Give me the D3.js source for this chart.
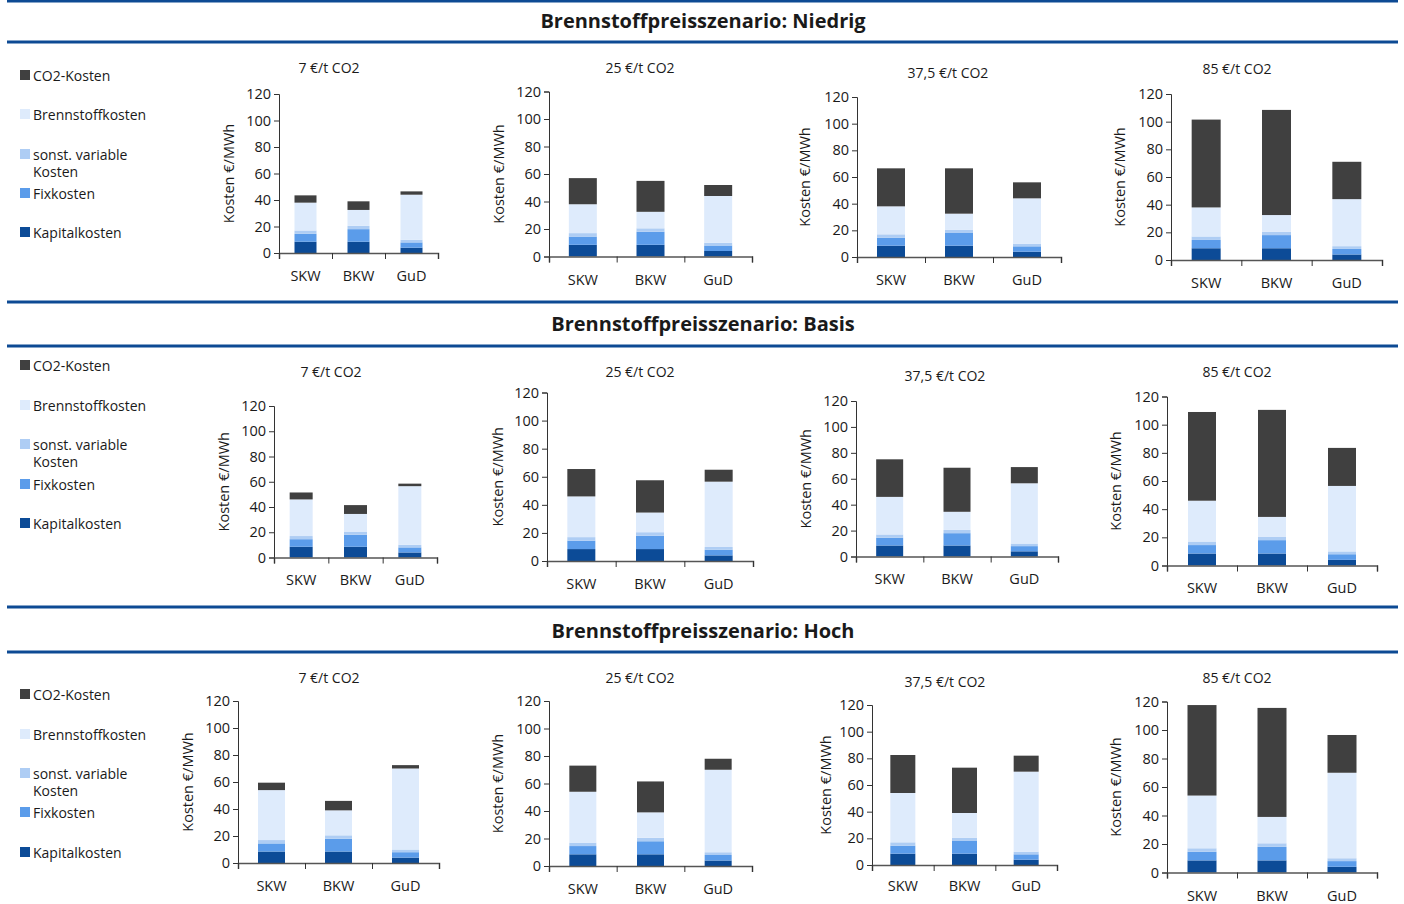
<!DOCTYPE html>
<html><head><meta charset="utf-8">
<script src="https://cdn.jsdelivr.net/npm/d3@7"></script>
<style>body{margin:0;background:#fff;} svg{display:block;font-family:"Open Sans","Noto Sans",sans-serif;}</style>
</head><body>
<svg id="c" width="1404" height="904"></svg>
<script>
// ---- data ----
const scenarios = ["Niedrig", "Basis", "Hoch"];
const co2Prices = ["7 €/t CO2", "25 €/t CO2", "37,5 €/t CO2", "85 €/t CO2"];
const plants = ["SKW", "BKW", "GuD"];
const seriesNames = ["Kapitalkosten", "Fixkosten", "sonst. variable Kosten", "Brennstoffkosten", "CO2-Kosten"];
const legendOrder = ["CO2-Kosten", "Brennstoffkosten", "sonst. variable Kosten", "Fixkosten", "Kapitalkosten"];
const yTicks = [0, 20, 40, 60, 80, 100, 120];
const kapitalkosten = [8.5, 8.5, 4];
const fixkosten = [6, 9.5, 4];
const sonstVariable = [2.5, 2.5, 2];
// fuel costs by scenario (Niedrig, Basis, Hoch) x plant
const brennstoffNiedrig = [21, 12, 34];
const brennstoffBasis = [29, 14, 46.5];
const brennstoffHoch = [37, 18.5, 60];
// CO2 costs by scenario x CO2 price x plant
const co2Niedrig = [[5.5, 6.5, 2.5], [19, 22.5, 8], [28.5, 34, 12], [63.5, 76, 27]];
const co2Basis = [[5.5, 7, 2], [19.5, 23, 8.5], [29, 34, 12.5], [63, 76, 27]];
const co2Hoch = [[5.5, 7, 2.5], [19, 22.5, 8], [28.5, 34, 12], [63.5, 76.5, 26.5]];

// ---- layout / style ----
const colors = {"Kapitalkosten":"#0c4b97","Fixkosten":"#5b9cea","sonst. variable Kosten":"#aecdf4","Brennstoffkosten":"#deebfc","CO2-Kosten":"#404040"};
const layouts = [
 [{x0:279,x1:438,y0:253,y1:94,bw:22,tx:329,ty:67,lx:228,cy:275},
  {x0:549,x1:752,y0:256.5,y1:91.5,bw:28,tx:640,ty:67,lx:498,cy:279},
  {x0:857,x1:1061,y0:257,y1:97,bw:28,tx:948,ty:72,lx:804,cy:279},
  {x0:1171,x1:1382,y0:260,y1:94,bw:29,tx:1237,ty:68,lx:1119,cy:282}],
 [{x0:274,x1:437,y0:557.5,y1:406,bw:23,tx:331,ty:371,lx:223,cy:579},
  {x0:547,x1:753,y0:561,y1:392.5,bw:28,tx:640,ty:371,lx:497,cy:583},
  {x0:856,x1:1058,y0:556.5,y1:401,bw:27,tx:945,ty:375,lx:805,cy:578},
  {x0:1167,x1:1377,y0:565.5,y1:396.5,bw:28,tx:1237,ty:371,lx:1115,cy:587}],
 [{x0:238,x1:439,y0:863,y1:701,bw:27,tx:329,ty:677,lx:187,cy:885},
  {x0:549,x1:752,y0:866,y1:701,bw:27,tx:640,ty:677,lx:497,cy:888},
  {x0:872,x1:1057,y0:865,y1:705,bw:25,tx:945,ty:681,lx:825,cy:885},
  {x0:1167,x1:1377,y0:872.5,y1:701.5,bw:29,tx:1237,ty:677,lx:1115,cy:895}]
];
const headers = [{y:20, l1:1, l2:42, leg:[75,114,154,193,232]},
                 {y:323, l1:302, l2:346, leg:[365,405,444,484,523]},
                 {y:630, l1:607, l2:652, leg:[694,734,773,812,852]}];

const svg = d3.select("#c");
const fuelBy = [brennstoffNiedrig, brennstoffBasis, brennstoffHoch];
const co2By = [co2Niedrig, co2Basis, co2Hoch];

scenarios.forEach((sc, si) => {
  const h = headers[si];
  [h.l1, h.l2].forEach(ly => svg.append("line").attr("x1",7).attr("x2",1398).attr("y1",ly).attr("y2",ly)
      .attr("stroke","#0d4a94").attr("stroke-width",3));
  svg.append("text").attr("x",703).attr("y",h.y).attr("text-anchor","middle").attr("dominant-baseline","central")
     .attr("font-size",20).attr("font-weight","bold").attr("fill","#1a1a1a").text("Brennstoffpreisszenario: " + sc);
  // legend
  legendOrder.forEach((name, li) => {
    const ly = h.leg[li];
    svg.append("rect").attr("x",20).attr("y",ly-5).attr("width",10).attr("height",10).attr("fill",colors[name]);
    const t = svg.append("text").attr("x",33).attr("y",ly).attr("dominant-baseline","central")
      .attr("font-size",14).attr("fill","#1a1a1a");
    if (name === "sonst. variable Kosten") {
      t.append("tspan").attr("x",33).text("sonst. variable");
      t.append("tspan").attr("x",33).attr("dy",17).text("Kosten");
    } else t.text(name);
  });
  co2Prices.forEach((cp, ci) => {
    const L = layouts[si][ci];
    const g = svg.append("g");
    const y = d3.scaleLinear().domain([0,120]).range([L.y0, L.y1]);
    const step = (L.x1 - L.x0) / plants.length;
    const pad = 1 - L.bw / step;
    const x = d3.scaleBand().domain(plants).range([L.x0, L.x1]).paddingInner(pad).paddingOuter(pad/2);
    const rows = plants.map((p, pi) => ({plant:p, "Kapitalkosten":kapitalkosten[pi], "Fixkosten":fixkosten[pi],
      "sonst. variable Kosten":sonstVariable[pi], "Brennstoffkosten":fuelBy[si][pi], "CO2-Kosten":co2By[si][ci][pi]}));
    const stacked = d3.stack().keys(seriesNames)(rows);
    stacked.forEach(s => {
      g.selectAll(null).data(s).enter().append("rect")
        .attr("x", d => x(d.data.plant)).attr("width", x.bandwidth())
        .attr("y", d => y(d[1])).attr("height", d => y(d[0]) - y(d[1]))
        .attr("fill", colors[s.key]);
    });
    // y axis
    const ya = g.append("g").attr("transform",`translate(${L.x0},0)`)
      .call(d3.axisLeft(y).tickValues(yTicks).tickSize(5).tickPadding(3));
    ya.selectAll("text").attr("font-size",14.5).attr("fill","#1a1a1a").attr("font-family","Open Sans, sans-serif");
    ya.select(".domain").attr("stroke","#333");
    ya.selectAll(".tick line").attr("stroke","#333");
    // x axis
    const xl = d3.scaleLinear().domain([0, plants.length]).range([L.x0, L.x1]);
    const xa = g.append("g").attr("transform",`translate(0,${L.y0})`)
      .call(d3.axisBottom(xl).tickValues(d3.range(plants.length+1)).tickSize(6).tickFormat(""));
    xa.select(".domain").attr("stroke","#555").attr("stroke-width",1.5);
    xa.selectAll(".tick line").attr("stroke","#333");
    g.selectAll(null).data(plants).enter().append("text")
      .attr("x", d => x(d) + x.bandwidth()/2).attr("y", L.cy).attr("text-anchor","middle")
      .attr("dominant-baseline","central").attr("font-size",14.5).attr("fill","#1a1a1a").text(d => d);
    // titles
    g.append("text").attr("x",L.tx).attr("y",L.ty).attr("text-anchor","middle").attr("dominant-baseline","central")
      .attr("font-size",14).attr("fill","#1a1a1a").text(cp);
    g.append("text").attr("transform",`translate(${L.lx},${(L.y0+L.y1)/2}) rotate(-90)`)
      .attr("text-anchor","middle").attr("dominant-baseline","central").attr("font-size",14.5).attr("fill","#1a1a1a")
      .text("Kosten €/MWh");
  });
});
</script>
</body></html>
